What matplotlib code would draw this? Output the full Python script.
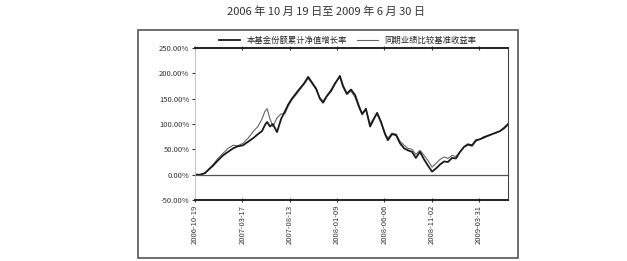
import matplotlib
matplotlib.use("Agg")
import matplotlib.pyplot as plt
import matplotlib.dates as mdates
from matplotlib.patches import Rectangle
from matplotlib.ticker import FuncFormatter
import pandas as pd

plt.rcParams["font.family"] = ["Noto Sans CJK SC", "DejaVu Sans"]

titulo = "2006 年 10 月 19 日至 2009 年 6 月 30 日"
nombreFondo = "本基金份额累计净值增长率"
nombreBase = "同期业绩比较基准收益率"

fechas = [
    "2006-10-19", "2006-11-04", "2006-11-19", "2006-12-15", "2006-12-30",
    "2007-01-15", "2007-01-31", "2007-02-16", "2007-03-03", "2007-03-19",
    "2007-04-04", "2007-04-20", "2007-05-05", "2007-05-18", "2007-05-27",
    "2007-06-03", "2007-06-12", "2007-06-21", "2007-07-04", "2007-07-17",
    "2007-07-29", "2007-08-08", "2007-08-20", "2007-09-05", "2007-09-14",
    "2007-09-27", "2007-10-10", "2007-10-22", "2007-11-04", "2007-11-16",
    "2007-11-26", "2007-12-08", "2007-12-21", "2008-01-03", "2008-01-18",
    "2008-01-28", "2008-02-09", "2008-02-22", "2008-03-06", "2008-03-18",
    "2008-03-28", "2008-04-09", "2008-04-22", "2008-05-04", "2008-05-14",
    "2008-05-26", "2008-06-08", "2008-06-17", "2008-06-30", "2008-07-13",
    "2008-07-25", "2008-08-07", "2008-08-19", "2008-09-01", "2008-09-13",
    "2008-09-26", "2008-10-09", "2008-10-21", "2008-11-03", "2008-11-15",
    "2008-11-28", "2008-12-11", "2008-12-23", "2009-01-05", "2009-01-17",
    "2009-01-30", "2009-02-12", "2009-02-24", "2009-03-09", "2009-03-21",
    "2009-04-03", "2009-04-15", "2009-04-28", "2009-05-11", "2009-05-23",
    "2009-06-05", "2009-06-17", "2009-06-30",
]

# rendimiento acumulado del fondo (%)
fondo = [
    0, 0, 3, 18, 28, 38, 45, 52, 56, 58,
    65, 72, 80, 86, 98, 104, 95, 100, 84, 110,
    125, 138, 150, 163, 170, 180, 193, 182, 170, 150,
    142, 155, 165, 180, 195, 175, 160, 168, 157, 135,
    120, 130, 95, 110, 122, 105, 80, 68, 80, 78,
    62, 52, 48, 45, 33, 45, 30, 18, 6, 12,
    20, 26, 25, 33, 32, 45, 55, 60, 58, 68,
    70, 74, 77, 80, 83, 86, 92, 100,
]

# rendimiento del indice de referencia (%)
base = [
    0, 0, 3, 20, 32, 42, 52, 58, 57, 62,
    72, 85, 95, 110, 125, 130, 110, 95, 112, 120,
    120, 135, 148, 160, 168, 178, 190, 180, 168, 152,
    145, 156, 168, 182, 192, 172, 158, 165, 152, 132,
    118, 128, 100, 112, 120, 102, 82, 72, 82, 80,
    66, 58, 52, 50, 40, 48, 38, 28, 15, 22,
    30, 35, 32, 38, 36, 45, 55, 58, 56, 66,
    70, 72, 76, 80, 82, 86, 90, 98,
]

ticksFecha = ["2006-10-19", "2007-03-17", "2007-08-13", "2008-01-09",
              "2008-06-06", "2008-11-02", "2009-03-31"]
ticksY = [-50, 0, 50, 100, 150, 200, 250]

data = pd.DataFrame({"fecha": pd.to_datetime(fechas), "fondo": fondo, "base": base})

fig = plt.figure(figsize=(6.27, 2.61), dpi=100)

# marco exterior
fig.patches.append(Rectangle((138 / 627, 1 - 258 / 261), (518 - 138) / 627, (258 - 30) / 261,
                             transform=fig.transFigure, fill=False, edgecolor="#555555", linewidth=1.2))

fig.text(0.52, 1 - 12 / 261, titulo, ha="center", va="center", fontsize=8, color="#333333")

ax = fig.add_axes([195 / 627, 1 - 200 / 261, (508 - 195) / 627, 152 / 261])
ax.plot(data["fecha"], data["base"], color="#666666", linewidth=0.8, label=nombreBase)
ax.plot(data["fecha"], data["fondo"], color="#1a1a1a", linewidth=1.3, label=nombreFondo)
ax.axhline(0, color="#555555", linewidth=0.9)

ax.set_xlim(data["fecha"].iloc[0], data["fecha"].iloc[-1])
ax.set_ylim(-50, 250)
ax.set_yticks(ticksY)
ax.yaxis.set_major_formatter(FuncFormatter(lambda v, p: f"{v:.2f}%"))
ax.set_xticks(pd.to_datetime(ticksFecha))
ax.xaxis.set_major_formatter(mdates.DateFormatter("%Y-%m-%d"))
ax.tick_params(axis="x", rotation=90, labelsize=5.5, colors="#333333", direction="inout",
               length=3, top=True, pad=2)
ax.tick_params(axis="y", labelsize=5.5, colors="#333333", length=2, pad=2)
for lbl in ax.get_xticklabels():
    lbl.set_va("top")

ax.spines["bottom"].set_linewidth(1.4)
ax.spines["bottom"].set_color("#222222")
ax.spines["top"].set_linewidth(1.4)
ax.spines["top"].set_color("#222222")
ax.spines["right"].set_color("#444444")
ax.spines["left"].set_color("#bbbbbb")
ax.spines["left"].set_linewidth(0.6)

handles, labels = ax.get_legend_handles_labels()
fig.legend(handles[::-1], labels[::-1], loc="center", bbox_to_anchor=(0.555, 1 - 40 / 261),
           ncol=2, frameon=False, fontsize=6, handlelength=2.5, columnspacing=1.2,
           handletextpad=0.8, labelcolor="#222222")

fig.savefig("out.png", dpi=100)
